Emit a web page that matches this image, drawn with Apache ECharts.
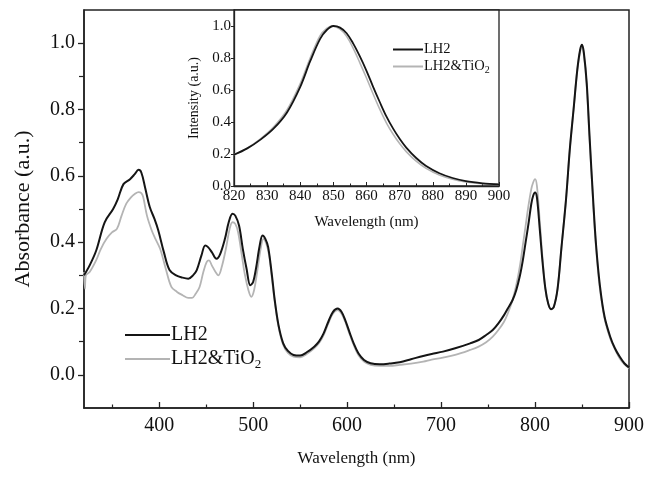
<!DOCTYPE html>
<html>
<head>
<meta charset="utf-8">
<script src="https://cdn.jsdelivr.net/npm/echarts@6/dist/echarts.min.js"></script>
<style>html,body{margin:0;padding:0;background:#fff}#c{width:648px;height:479px}</style>
</head>
<body>
<div id="c"></div>
<script>
// ---- data ----
const seriesNames = ['LH2', 'LH2&TiO2'];
const xMajorTicks = [400, 500, 600, 700, 800, 900];
const xMinorTicks = [350, 450, 550, 650, 750, 850];
const yMajorTicks = [0, 0.2, 0.4, 0.6, 0.8, 1.0];
const yMinorTicks = [0.1, 0.3, 0.5, 0.7, 0.9];
const insetYTicks = [0, 0.2, 0.4, 0.6, 0.8, 1.0];

const lh2Abs = [
[320,0.30],[326,0.33],[333,0.375],[342,0.46],[351,0.50],[356,0.53],[362,0.575],[369,0.59],[374,0.605],[378,0.618],[381,0.61],[385,0.565],[390,0.506],[395,0.47],[399,0.436],[405,0.37],[411,0.316],[418,0.30],[425,0.293],[431,0.29],[436,0.30],[440,0.316],[445,0.36],[449,0.39],[452,0.385],[456,0.37],[461,0.35],[465,0.365],[470,0.41],[474,0.46],[478,0.486],[481,0.48],[485,0.45],[489,0.38],[493,0.32],[497,0.27],[500,0.28],[503,0.32],[507,0.39],[510,0.42],[513,0.41],[516,0.385],[520,0.30],[523,0.225],[527,0.15],[532,0.095],[537,0.072],[543,0.06],[550,0.058],[557,0.068],[565,0.085],[570,0.10],[575,0.125],[580,0.16],[585,0.19],[590,0.20],[594,0.19],[598,0.165],[603,0.125],[607,0.095],[612,0.065],[618,0.045],[625,0.035],[635,0.032],[645,0.034],[656,0.038],[668,0.047],[681,0.057],[690,0.063],[702,0.07],[715,0.08],[731,0.095],[740,0.105],[748,0.12],[755,0.135],[761,0.155],[767,0.18],[771,0.20],[776,0.225],[780,0.255],[784,0.30],[787,0.345],[790,0.40],[793,0.455],[796,0.515],[798,0.54],[800,0.55],[802,0.535],[805,0.44],[808,0.34],[811,0.26],[814,0.215],[817,0.198],[820,0.205],[824,0.26],[828,0.38],[833,0.53],[837,0.68],[841,0.80],[845,0.92],[848,0.98],[850,0.995],[852,0.97],[855,0.88],[858,0.72],[862,0.52],[865,0.39],[869,0.27],[874,0.175],[880,0.115],[885,0.08],[890,0.055],[895,0.035],[900,0.022]
];
const tioAbs = [
[320,0.31],[321,0.26],[322,0.30],[326,0.31],[333,0.346],[338,0.38],[344,0.41],[350,0.43],[355,0.44],[360,0.48],[365,0.516],[370,0.535],[374,0.545],[378,0.551],[381,0.548],[383,0.536],[387,0.48],[392,0.436],[396,0.41],[401,0.38],[407,0.32],[413,0.265],[419,0.25],[425,0.24],[431,0.232],[435,0.232],[439,0.245],[443,0.265],[447,0.31],[450.5,0.34],[453,0.345],[456,0.33],[460,0.31],[463,0.30],[467,0.33],[471,0.38],[475,0.44],[478,0.46],[481,0.455],[484,0.43],[488,0.36],[491,0.305],[495,0.255],[498,0.235],[501,0.255],[504,0.305],[508,0.38],[511,0.41],[514,0.395],[517,0.36],[520,0.29],[523,0.22],[527,0.145],[532,0.09],[537,0.066],[543,0.055],[550,0.053],[557,0.063],[565,0.08],[570,0.095],[575,0.12],[580,0.155],[585,0.185],[590,0.195],[594,0.185],[598,0.16],[603,0.12],[607,0.09],[612,0.06],[618,0.04],[625,0.03],[635,0.027],[645,0.027],[656,0.03],[668,0.034],[681,0.04],[690,0.046],[702,0.052],[715,0.06],[731,0.075],[740,0.085],[748,0.098],[755,0.115],[761,0.135],[767,0.16],[771,0.185],[776,0.225],[780,0.27],[784,0.33],[787,0.39],[790,0.45],[793,0.51],[796,0.56],[798,0.58],[800,0.59],[802,0.57],[805,0.465],[808,0.35],[811,0.26],[814,0.215],[817,0.198],[820,0.205],[824,0.26],[828,0.38],[833,0.53],[837,0.68],[841,0.80],[845,0.92],[848,0.975],[850,0.99],[852,0.965],[855,0.87],[858,0.71],[862,0.51],[865,0.38],[869,0.26],[874,0.17],[880,0.11],[885,0.078],[890,0.05],[895,0.032],[900,0.02]
];
const lh2Fl = [
[820,0.195],[824,0.235],[828,0.29],[832,0.36],[836,0.46],[840,0.62],[843,0.78],[846,0.92],[848,0.975],[850,1.0],[852,0.99],[854,0.955],[856,0.89],[858,0.81],[860,0.72],[862,0.62],[864,0.525],[866,0.435],[868,0.36],[870,0.295],[872,0.24],[875,0.175],[878,0.125],[882,0.08],[886,0.05],[890,0.03],[895,0.017],[900,0.01]
];
const tioFl = [
[820,0.195],[824,0.237],[828,0.295],[832,0.37],[836,0.475],[840,0.64],[843,0.80],[846,0.94],[848,0.985],[849.5,1.0],[852,0.98],[854,0.935],[856,0.86],[858,0.77],[860,0.675],[862,0.575],[864,0.48],[866,0.395],[868,0.325],[870,0.265],[872,0.215],[875,0.155],[878,0.11],[882,0.068],[886,0.042],[890,0.026],[895,0.015],[900,0.01]
];

// ---- chart ----
const FONT = "'Liberation Serif','Times New Roman',serif";
const AX = '#222';
const BLACK = '#151515';
const GRAY = '#b4b4b4';
const chart = echarts.init(document.getElementById('c'), null, {renderer: 'canvas'});

const legendFormatter = n => n === 'LH2&TiO2' ? '{t|LH2&TiO}{s|2}' : '{t|' + n + '}';

const option = {
  animation: false,
  backgroundColor: '#fff',
  grid: [
    {left: 84, top: 10, right: 19, bottom: 71, show: true, borderColor: AX, borderWidth: 1.5, backgroundColor: 'transparent'},
    {left: 234, top: 10, width: 265, height: 176, show: true, borderColor: AX, borderWidth: 1.3, backgroundColor: '#fff', z: 5}
  ],
  legend: [
    {
      data: seriesNames, orient: 'vertical', left: 120, top: 320, itemWidth: 45, itemHeight: 2, itemGap: 4,
      icon: 'rect', formatter: legendFormatter,
      textStyle: {color: '#111', padding: [0,0,0,-4], rich: {
        t: {fontFamily: FONT, fontSize: 20, color: '#111', lineHeight: 22},
        s: {fontFamily: FONT, fontSize: 13, color: '#111', padding: [12,0,0,0]}
      }}
    },
    {
      data: seriesNames, orient: 'vertical', left: 388, top: 37, itemWidth: 30, itemHeight: 2, itemGap: 2,
      icon: 'rect', formatter: legendFormatter, z: 10,
      textStyle: {color: '#111', padding: [0,0,0,-4], rich: {
        t: {fontFamily: FONT, fontSize: 14.5, color: '#111', lineHeight: 14},
        s: {fontFamily: FONT, fontSize: 10, color: '#111', padding: [8,0,0,0]}
      }}
    }
  ],
  xAxis: [
    {
      gridIndex: 0, type: 'value', min: 320, max: 900, position: 'bottom',
      name: 'Wavelength (nm)', nameLocation: 'middle', nameGap: 42,
      nameTextStyle: {fontFamily: FONT, fontSize: 17, color: '#111'},
      axisLine: {onZero: false, lineStyle: {color: AX, width: 1.5}},
      axisTick: {inside: true, length: 6, customValues: xMajorTicks, lineStyle: {color: AX, width: 1.3}},
      axisLabel: {customValues: xMajorTicks, margin: 8, fontFamily: FONT, fontSize: 20, color: '#111'},
      splitLine: {show: false}
    },
    {
      gridIndex: 0, type: 'value', min: 320, max: 900, position: 'bottom',
      axisLine: {show: false, onZero: false},
      axisTick: {inside: true, length: 3.5, customValues: xMinorTicks, lineStyle: {color: AX, width: 1.2}},
      axisLabel: {show: false}, splitLine: {show: false}
    },
    {
      gridIndex: 1, type: 'value', min: 820, max: 900, interval: 10, position: 'bottom',
      name: 'Wavelength (nm)', nameLocation: 'middle', nameGap: 29,
      nameTextStyle: {fontFamily: FONT, fontSize: 15, color: '#111'},
      axisLine: {onZero: false, lineStyle: {color: AX, width: 1.3}},
      axisTick: {inside: true, length: 4, lineStyle: {color: AX}},
      minorTick: {show: true, splitNumber: 2, length: 2.5, lineStyle: {color: AX}},
      axisLabel: {margin: 3, fontFamily: FONT, fontSize: 15, color: '#111'},
      splitLine: {show: false}, z: 6
    }
  ],
  yAxis: [
    {
      gridIndex: 0, type: 'value', min: -0.1, max: 1.1, position: 'left',
      name: 'Absorbance (a.u.)', nameLocation: 'middle', nameGap: 50,
      nameTextStyle: {fontFamily: FONT, fontSize: 22, color: '#111'},
      axisLine: {show: true, onZero: false, lineStyle: {color: AX, width: 1.5}},
      axisTick: {show: true, length: 6, customValues: yMajorTicks, lineStyle: {color: AX, width: 1.3}},
      axisLabel: {customValues: yMajorTicks, margin: 9, fontFamily: FONT, fontSize: 20, color: '#111', formatter: v => v.toFixed(1)},
      splitLine: {show: false}
    },
    {
      gridIndex: 0, type: 'value', min: -0.1, max: 1.1, position: 'left',
      axisLine: {show: false, onZero: false},
      axisTick: {show: true, length: 5, customValues: yMinorTicks, lineStyle: {color: AX, width: 1.2}},
      axisLabel: {show: false}, splitLine: {show: false}
    },
    {
      gridIndex: 1, type: 'value', min: 0, max: 1.1, position: 'left',
      name: 'Intensity (a.u.)', nameLocation: 'middle', nameGap: 33,
      nameTextStyle: {fontFamily: FONT, fontSize: 14, color: '#111'},
      axisLine: {show: true, onZero: false, lineStyle: {color: AX, width: 1.3}},
      axisTick: {show: true, length: 3, customValues: insetYTicks, lineStyle: {color: AX}},
      axisLabel: {customValues: insetYTicks, margin: 3, fontFamily: FONT, fontSize: 15, color: '#111', formatter: v => v.toFixed(1)},
      splitLine: {show: false}, z: 6
    }
  ],
  series: [
    {name: 'LH2&TiO2', type: 'line', xAxisIndex: 0, yAxisIndex: 0, data: tioAbs, showSymbol: false, smooth: 0.35,
     lineStyle: {color: GRAY, width: 1.8}, itemStyle: {color: GRAY}, z: 2},
    {name: 'LH2', type: 'line', xAxisIndex: 0, yAxisIndex: 0, data: lh2Abs, showSymbol: false, smooth: 0.35,
     lineStyle: {color: BLACK, width: 2}, itemStyle: {color: BLACK}, z: 3},
    {name: 'LH2&TiO2', type: 'line', xAxisIndex: 2, yAxisIndex: 2, data: tioFl, showSymbol: false, smooth: 0.35,
     lineStyle: {color: GRAY, width: 1.6}, itemStyle: {color: GRAY}, z: 7},
    {name: 'LH2', type: 'line', xAxisIndex: 2, yAxisIndex: 2, data: lh2Fl, showSymbol: false, smooth: 0.35,
     lineStyle: {color: BLACK, width: 1.8}, itemStyle: {color: BLACK}, z: 8}
  ]
};
chart.setOption(option);
</script>
</body>
</html>
